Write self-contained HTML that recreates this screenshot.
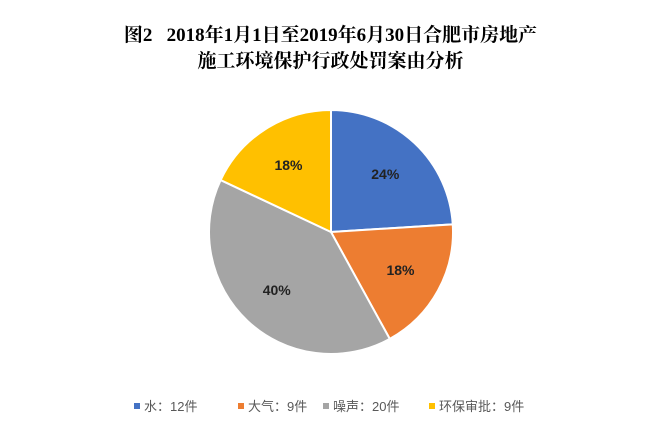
<!DOCTYPE html>
<html><head><meta charset="utf-8"><style>
html,body{margin:0;padding:0;background:#fff;}
body{width:661px;height:429px;overflow:hidden;position:relative;}
.t{position:absolute;left:0;width:661px;text-align:center;font-family:"Liberation Serif","Noto Serif CJK SC",serif;font-weight:bold;font-size:19px;color:#000;}
</style></head><body>
<div class="t" style="top:20px">图2&nbsp;&nbsp;&nbsp;2018年1月1日至2019年6月30日合肥市房地产</div>
<div class="t" style="top:46px">施工环境保护行政处罚案由分析</div>
<svg id="c" width="661" height="429" style="position:absolute;left:0;top:0"></svg>
<script>
const categories=["水","大气","噪声","环保审批"];
const values=[12,9,20,9];
const colors=["#4472C4","#ED7D31","#A5A5A5","#FFC000"];
const svg=document.getElementById('c');
const NS="http://www.w3.org/2000/svg";
const cx=331,cy=232,r=122;
const total=values.reduce((a,b)=>a+b,0);
function pt(a,rr){return [cx+rr*Math.sin(a),cy-rr*Math.cos(a)];}
let acc=0;
values.forEach((v,i)=>{
  const a0=acc/total*2*Math.PI; acc+=v; const a1=acc/total*2*Math.PI;
  const p0=pt(a0,r),p1=pt(a1,r);
  const path=document.createElementNS(NS,'path');
  path.setAttribute('d',`M${cx},${cy}L${p0[0]},${p0[1]}A${r},${r} 0 ${a1-a0>Math.PI?1:0} 1 ${p1[0]},${p1[1]}Z`);
  path.setAttribute('fill',colors[i]);path.setAttribute('stroke','#fff');path.setAttribute('stroke-width','2');
  
  
  svg.appendChild(path);
  const m=(a0+a1)/2,lp=pt(m,r*0.65);
  const t=document.createElementNS(NS,'text');
  t.setAttribute('x',lp[0]);t.setAttribute('y',lp[1]+5);t.setAttribute('text-anchor','middle');
  t.setAttribute('font-family','Liberation Sans, sans-serif');t.setAttribute('font-weight','bold');t.setAttribute('font-size','14');t.setAttribute('fill','#222');
  t.textContent=Math.round(v/total*100)+'%';
  
  
  svg.appendChild(t);
});
const lx=[134,238,323,429];
categories.forEach((c,i)=>{
  const g=document.createElementNS(NS,'g');
  
  
  const s=document.createElementNS(NS,'rect');
  s.setAttribute('x',lx[i]);s.setAttribute('y',403);s.setAttribute('width',6);s.setAttribute('height',6);s.setAttribute('fill',colors[i]);
  g.appendChild(s);
  const t=document.createElementNS(NS,'text');
  t.setAttribute('x',lx[i]+10);t.setAttribute('y',411);
  t.setAttribute('font-family','Liberation Sans, Noto Sans CJK SC, sans-serif');t.setAttribute('font-size','13');t.setAttribute('fill','#595959');
  t.textContent=c+'：'+values[i]+'件';
  g.appendChild(t);
  svg.appendChild(g);
});
</script>
</body></html>
